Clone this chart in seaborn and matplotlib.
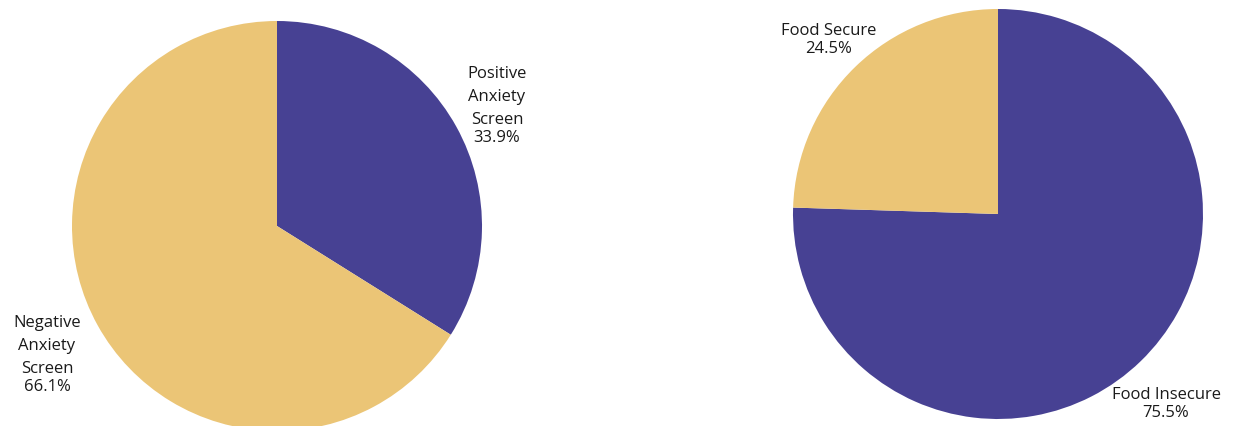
import matplotlib
matplotlib.use("Agg")
import matplotlib.pyplot as plt
import seaborn as sns

sns.set_theme(style="white")
plt.rcParams['font.family'] = ['Open Sans', 'DejaVu Sans']

# Anxiety screening results
anxiety_labels = ["Positive Anxiety Screen", "Negative Anxiety Screen"]
anxiety_values = [33.9, 66.1]

# Food security status
food_labels = ["Food Insecure", "Food Secure"]
food_values = [75.5, 24.5]

PURPLE = "#474193"
GOLD = "#EBC576"
W, H = 1250, 426

fig = plt.figure(figsize=(W / 100, H / 100), dpi=100)
fig.patch.set_facecolor("white")


def pie_axes(cx, cy, r):
    # cx, cy, r in pixels, measured from the top-left corner
    return fig.add_axes([(cx - r) / W, (H - cy - r) / H, 2 * r / W, 2 * r / H])


ax1 = pie_axes(277, 226, 205)
ax1.pie(anxiety_values, colors=[PURPLE, GOLD], startangle=90, counterclock=False,
        radius=1, wedgeprops=dict(linewidth=0))
ax1.set_xlim(-1, 1)
ax1.set_ylim(-1, 1)
ax1.axis("off")

ax2 = pie_axes(998, 214, 205)
ax2.pie(food_values, colors=[PURPLE, GOLD], startangle=90, counterclock=False,
        radius=1, wedgeprops=dict(linewidth=0))
ax2.set_xlim(-1, 1)
ax2.set_ylim(-1, 1)
ax2.axis("off")


def label(x, y, words, pct, gap=23):
    lines = words.split("\n")
    for i, line in enumerate(lines):
        fig.text(x / W, 1 - (y + i * gap) / H, line, ha="center", va="center",
                 fontsize=12, color="#1a1a1a")
    fig.text(x / W, 1 - (y + (len(lines) - 1) * gap + 18) / H, f"{pct}%",
             ha="center", va="center", fontsize=12, color="#1a1a1a")


label(497, 74, "Positive\nAnxiety\nScreen", anxiety_values[0])
label(47, 323, "Negative\nAnxiety\nScreen", anxiety_values[1])
label(829, 31, "Food Secure", food_values[1])
label(1166, 395, "Food Insecure", food_values[0])

fig.savefig("out.png", dpi=100, facecolor="white")
